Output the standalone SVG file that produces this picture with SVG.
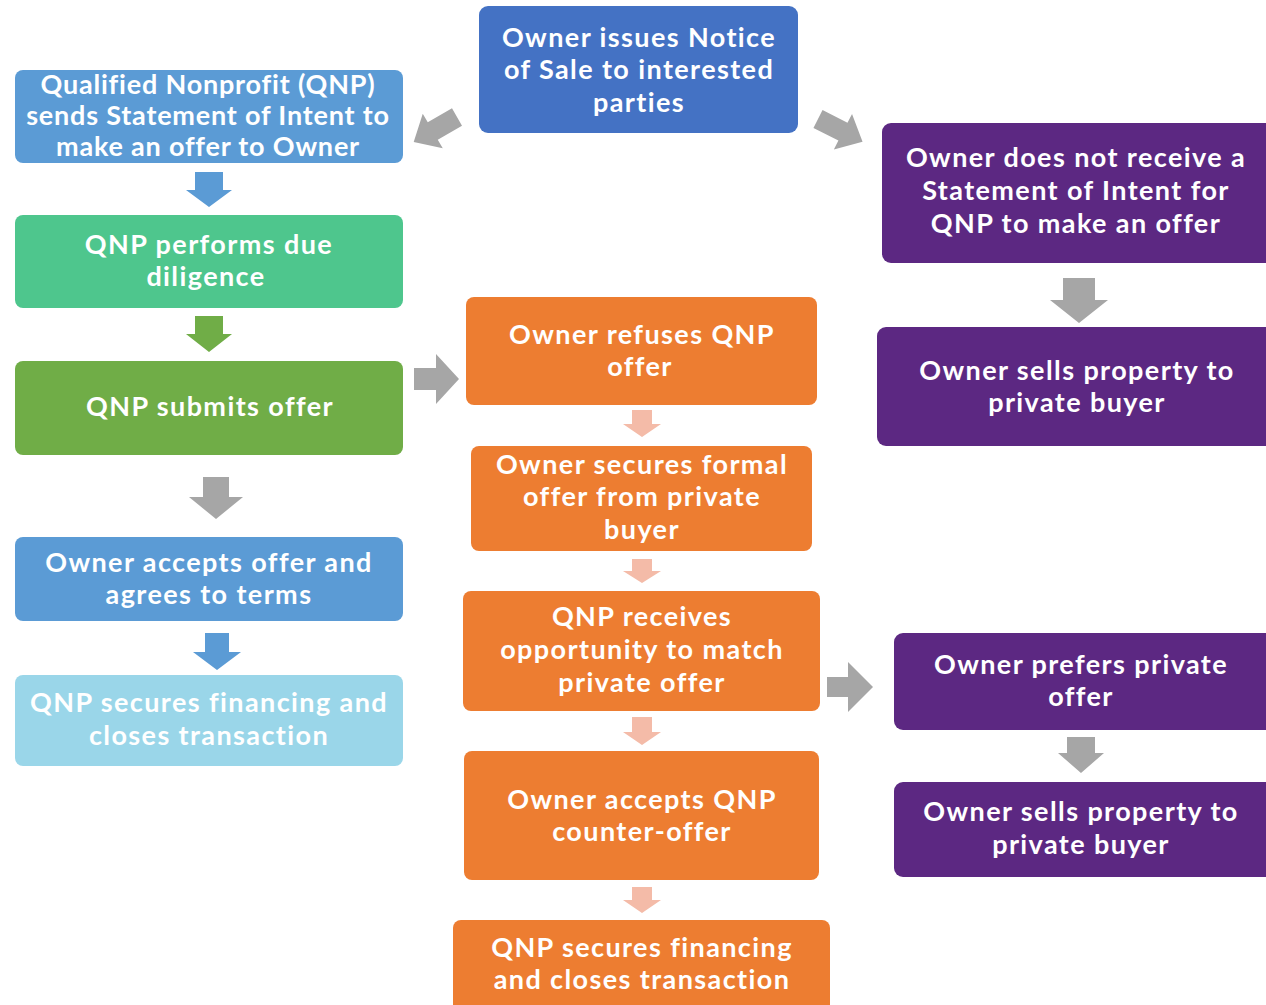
<svg xmlns="http://www.w3.org/2000/svg" width="1266" height="1005" viewBox="0 0 1266 1005">
<defs>
<style>
text{font-family:Lato,"Open Sans","Liberation Sans",sans-serif;font-weight:700;font-size:27px;fill:#ffffff;text-anchor:middle;letter-spacing:1.4px}
#n2 text{letter-spacing:0.8px}
.b1{fill:#4472C4}.b2{fill:#5B9BD5}.g1{fill:#4EC68D}.g2{fill:#70AD47}.lb{fill:#9AD6E9}.or{fill:#ED7D31}.pu{fill:#5C2882}
.ag{fill:#A6A6A6}.ab{fill:#5B9BD5}.agr{fill:#70AD47}.ap{fill:#F4BBA8}
</style>
<path id="diag" d="M0,-10 L28,-10 L28,-20 L50,0 L28,20 L28,10 L0,10 Z"/>
</defs>
<rect width="1266" height="1005" fill="#ffffff"/>
<g id="connectors">
<use href="#diag" class="ag" transform="translate(457,117) rotate(150)"/>
<use href="#diag" class="ag" transform="translate(818,119) rotate(27)"/>
<polygon class="ab" points="195,172 223,172 223,190 232,190 209,207 186,190 195,190"/>
<polygon class="agr" points="195,316 223,316 223,334 232,334 209,352 186,334 195,334"/>
<polygon class="ag" points="203,477 229,477 229,497 243,497 216,519 189,497 203,497"/>
<polygon class="ab" points="205,633 229,633 229,652 241,652 217,670 193,652 205,652"/>
<polygon class="ap" points="632,410 652,410 652,424 661,424 642,437 623,424 632,424"/>
<polygon class="ap" points="632,559 652,559 652,571 661,571 642,583 623,571 632,571"/>
<polygon class="ap" points="632,717 652,717 652,732 661,732 642,745 623,732 632,732"/>
<polygon class="ap" points="632,887 652,887 652,900 661,900 642,913 623,900 632,900"/>
<polygon class="ag" points="1063,278 1095,278 1095,300 1108,300 1079,323 1050,300 1063,300"/>
<polygon class="ag" points="1067,737 1095,737 1095,753 1104,753 1081,773 1058,753 1067,753"/>
<polygon class="ag" points="414,368 436,368 436,354 459,379 436,404 436,390 414,390"/>
<polygon class="ag" points="827,677 848,677 848,662 873,687 848,712 848,697 827,697"/>
</g>
<g id="n1"><rect class="b1" x="479" y="6" width="319" height="127" rx="9"/>
<text x="639" y="47">Owner issues Notice</text><text x="639" y="79">of Sale to interested</text><text x="639" y="112">parties</text></g>
<g id="n2"><rect class="b2" x="15" y="70" width="388" height="93" rx="8"/>
<text x="208" y="94">Qualified Nonprofit (QNP)</text><text x="208" y="125">sends Statement of Intent to</text><text x="208" y="156">make an offer to Owner</text></g>
<g id="n3"><rect class="g1" x="15" y="215" width="388" height="93" rx="8"/>
<text x="209" y="254">QNP performs due</text><text x="206" y="286">diligence</text></g>
<g id="n4"><rect class="g2" x="15" y="361" width="388" height="94" rx="8"/>
<text x="210" y="416">QNP submits offer</text></g>
<g id="n5"><rect class="b2" x="15" y="537" width="388" height="84" rx="8"/>
<text x="209" y="572">Owner accepts offer and</text><text x="209" y="604">agrees to terms</text></g>
<g id="n6"><rect class="lb" x="15" y="675" width="388" height="91" rx="8"/>
<text x="209" y="712">QNP secures financing and</text><text x="209" y="745">closes transaction</text></g>
<g id="n7"><rect class="or" x="466" y="297" width="351" height="108" rx="8"/>
<text x="642" y="344">Owner refuses QNP</text><text x="640" y="376">offer</text></g>
<g id="n8"><rect class="or" x="471" y="446" width="341" height="105" rx="8"/>
<text x="642" y="474">Owner secures formal</text><text x="642" y="506">offer from private</text><text x="642" y="539">buyer</text></g>
<g id="n9"><rect class="or" x="463" y="591" width="357" height="120" rx="8"/>
<text x="642" y="626">QNP receives</text><text x="642" y="659">opportunity to match</text><text x="642" y="692">private offer</text></g>
<g id="n10"><rect class="or" x="464" y="751" width="355" height="129" rx="8"/>
<text x="642" y="809">Owner accepts QNP</text><text x="642" y="841">counter-offer</text></g>
<g id="n11"><rect class="or" x="453" y="920" width="377" height="100" rx="8"/>
<text x="642" y="957">QNP secures financing</text><text x="642" y="989">and closes transaction</text></g>
<g id="n12"><rect class="pu" x="882" y="123" width="394" height="140" rx="9"/>
<text x="1076" y="167">Owner does not receive a</text><text x="1076" y="200">Statement of Intent for</text><text x="1076" y="233">QNP to make an offer</text></g>
<g id="n13"><rect class="pu" x="877" y="327" width="399" height="119" rx="9"/>
<text x="1077" y="380">Owner sells property to</text><text x="1077" y="412">private buyer</text></g>
<g id="n14"><rect class="pu" x="894" y="633" width="382" height="97" rx="9"/>
<text x="1081" y="674">Owner prefers private</text><text x="1081" y="706">offer</text></g>
<g id="n15"><rect class="pu" x="894" y="782" width="382" height="95" rx="9"/>
<text x="1081" y="821">Owner sells property to</text><text x="1081" y="854">private buyer</text></g>
</svg>
